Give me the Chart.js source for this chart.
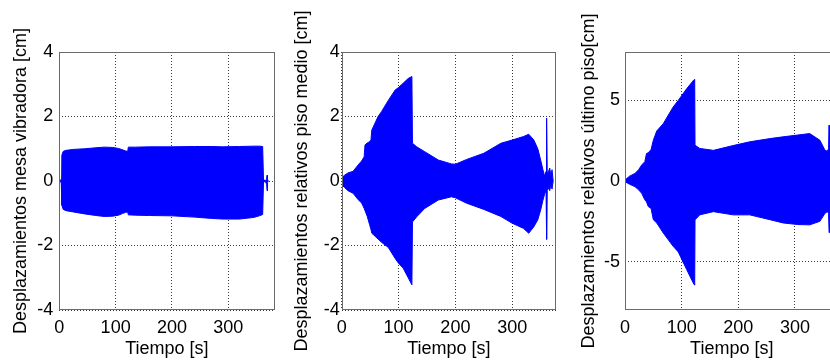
<!DOCTYPE html>
<html>
<head>
<meta charset="utf-8">
<script src="https://cdn.jsdelivr.net/npm/chart.js@4.4.1/dist/chart.umd.min.js"></script>
<style>
  html, body { margin:0; padding:0; background:#fff; width:830px; height:362px; overflow:hidden; }
  canvas { position:absolute; top:0; }
</style>
</head>
<body>
<canvas id="c1" width="280" height="362" style="left:0px"></canvas>
<canvas id="c2" width="280" height="362" style="left:280px"></canvas>
<canvas id="c3" width="280" height="362" style="left:560px"></canvas>
<script>
// ---- Data (envelopes of the measured displacement signals) ----
const xTicks = [0, 100, 200, 300];
const yTicksA = [-4, -2, 0, 2, 4];
const yTicksB = [-5, 0, 5];

// Panel 1: mesa vibradora
const t1  = [0, 3.5, 4.5, 7, 12, 25, 45, 65, 80, 95, 105, 112, 118, 121.5, 122.5, 135, 160, 200, 240, 270, 290, 320, 345, 355, 361, 362.5, 366, 368, 368.8, 369.6, 371];
const up1 = [0, 0.05, 0.8, 0.92, 0.95, 0.98, 1.0, 1.03, 1.05, 1.04, 1.01, 0.97, 0.93, 0.92, 1.05, 1.05, 1.06, 1.06, 1.07, 1.07, 1.06, 1.07, 1.08, 1.08, 1.07, 0.03, 0.02, 0.05, 0.18, 0.05, 0];
const lo1 = [0, -0.05, -0.75, -0.88, -0.92, -0.96, -1.02, -1.07, -1.1, -1.09, -1.06, -1.01, -0.97, -0.96, -1.05, -1.06, -1.07, -1.08, -1.12, -1.16, -1.18, -1.18, -1.13, -1.08, -1.04, -0.03, -0.02, -0.1, -0.3, -0.05, 0];

// Panel 2: piso medio
const t2  = [0, 5, 11, 20, 29, 35, 39.5, 41, 45, 49, 51.5, 53, 64, 70, 82, 94, 100, 108, 117, 123.5, 124.5, 132, 146, 170, 193, 200, 220, 250, 280, 300, 320, 329, 338, 345, 350, 354, 357, 359.5, 360.5, 361.5, 363, 366, 368, 370, 372];
const up2 = [0.1, 0.18, 0.25, 0.3, 0.5, 0.62, 0.75, 1.12, 1.18, 1.22, 1.28, 1.58, 2.0, 2.15, 2.5, 2.82, 2.9, 3.03, 3.18, 3.24, 1.17, 1.06, 0.91, 0.65, 0.53, 0.52, 0.67, 0.86, 1.17, 1.27, 1.38, 1.45, 1.27, 1.0, 0.65, 0.35, 0.15, 0.3, 1.95, 0.3, 0.25, 0.4, 0.15, 0.35, 0];
const lo2 = [-0.12, -0.2, -0.3, -0.38, -0.58, -0.68, -0.85, -0.92, -1.1, -1.35, -1.5, -1.62, -1.8, -1.9, -2.06, -2.4, -2.55, -2.7, -3.0, -3.22, -1.27, -1.11, -0.85, -0.59, -0.49, -0.52, -0.69, -0.88, -1.1, -1.31, -1.47, -1.62, -1.42, -1.2, -0.9, -0.6, -0.4, -0.3, -1.81, -0.3, -0.2, -0.3, -0.1, -0.25, 0];

// Panel 3: último piso
const t3  = [0, 8, 17.6, 24, 29.4, 35, 38, 41, 46, 50, 56, 67.6, 85, 94, 108.8, 121.8, 123, 123.6, 132, 156, 191, 220, 256, 279, 305, 326, 344, 353, 357, 359.3, 360.2, 361, 363, 370];
const up3 = [0.06, 0.3, 0.47, 0.7, 0.99, 1.2, 1.71, 1.75, 1.95, 2.53, 3.1, 3.56, 4.59, 5.0, 5.72, 6.28, 6.3, 2.22, 2.02, 1.9, 2.2, 2.43, 2.63, 2.74, 2.85, 2.94, 2.53, 1.9, 1.85, 2.0, 3.46, 2.0, 2.0, 2.0];
const lo3 = [-0.04, -0.2, -0.35, -0.55, -0.76, -1.17, -1.3, -1.58, -1.7, -2.4, -2.6, -3.23, -4.05, -4.4, -5.49, -6.42, -6.45, -2.41, -2.1, -1.9, -2.1, -2.1, -2.4, -2.6, -2.7, -2.72, -2.5, -2.0, -1.9, -2.0, -3.2, -2.0, -2.0, -2.0];

const titles = [
  'Desplazamientos mesa vibradora [cm]',
  'Desplazamientos relativos piso medio [cm]',
  'Desplazamientos relativos último piso[cm]'
];
const xTitle = 'Tiempo [s]';

// ---- Rendering ----
Chart.defaults.font.family = '"Liberation Sans", Arial, Helvetica, sans-serif';
Chart.defaults.color = '#000';

const BLUE = '#0000ff';

const boxPlugin = {
  id: 'box',
  afterDatasetsDraw(chart) {
    const {ctx, chartArea} = chart;
    const l = Math.round(chartArea.left), t = Math.round(chartArea.top);
    const r = Math.round(chartArea.right), b = Math.round(chartArea.bottom);
    ctx.save();
    ctx.strokeStyle = '#6a6a6a';
    ctx.lineWidth = 1;
    ctx.strokeRect(l + 0.5, t + 0.5, r - l - 1, b - t - 1);
    ctx.restore();
  }
};

function makeChart(id, t, up, lo, o) {
  const pts = (arr) => t.map((x, i) => ({x: x, y: arr[i]}));
  return new Chart(document.getElementById(id), {
    type: 'line',
    data: {
      datasets: [
        { data: pts(up), borderColor: BLUE, borderWidth: 1, pointRadius: 0, fill: false, tension: 0 },
        { data: pts(lo), borderColor: BLUE, borderWidth: 1, pointRadius: 0, fill: '-1', backgroundColor: BLUE, tension: 0 }
      ]
    },
    options: {
      responsive: false,
      animation: false,
      events: [],
      layout: { padding: { top: 52, right: o.padRight, bottom: 0, left: 0 } },
      plugins: { legend: { display: false }, tooltip: { enabled: false } },
      scales: {
        x: {
          type: 'linear', min: 0, max: o.xMax,
          afterBuildTicks: (s) => { s.ticks = xTicks.map(v => ({value: v})); },
          afterFit: (s) => { s.height = 52; },
          grid: { color: '#3a3a3a', lineWidth: 1, drawTicks: false },
          border: { display: false, dash: [1, 2] },
          ticks: { font: { size: 18 }, padding: 7, maxRotation: 0, autoSkip: false, color: '#000' },
          title: { display: true, text: xTitle, font: { size: 18 }, padding: { top: 0, bottom: 2 }, color: '#000' }
        },
        y: {
          type: 'linear', min: o.yMin, max: o.yMax,
          afterBuildTicks: (s) => { s.ticks = o.yTicks.map(v => ({value: v})); },
          afterFit: (s) => { s.width = o.yWidth; },
          grid: { color: '#3a3a3a', lineWidth: 1, drawTicks: false },
          border: { display: false, dash: [1, 2] },
          ticks: { font: { size: 18 }, padding: o.tickPad, autoSkip: false, color: '#000' },
          title: { display: true, text: o.title, font: { size: 18 }, padding: { top: o.titlePad, bottom: 0 }, color: '#000' }
        }
      }
    },
    plugins: [boxPlugin]
  });
}

makeChart('c1', t1, up1, lo1, { xMax: 382, yMin: -4, yMax: 4, yTicks: yTicksA, yWidth: 59.3, padRight: 5.5, tickPad: 6, titlePad: 10.7, title: titles[0] });
makeChart('c2', t2, up2, lo2, { xMax: 377, yMin: -4, yMax: 4, yTicks: yTicksA, yWidth: 61.7, padRight: 4, tickPad: 2, titlePad: 11.2, title: titles[1] });
makeChart('c3', t3, up3, lo3, { xMax: 377, yMin: -8, yMax: 8, yTicks: yTicksB, yWidth: 65, padRight: 1.4, tickPad: 5, titlePad: 18.2, title: titles[2] });
</script>
</body>
</html>
